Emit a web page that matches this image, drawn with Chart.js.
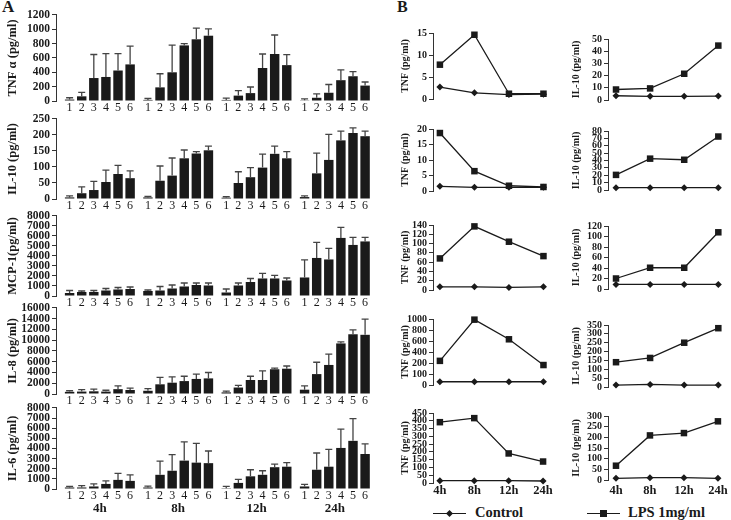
<!DOCTYPE html>
<html><head><meta charset="utf-8">
<script src="https://cdn.jsdelivr.net/npm/chart.js@4/dist/chart.umd.min.js"></script>
<style>
html,body{margin:0;padding:0;background:#fff;}
#wrap{position:relative;width:731px;height:520px;overflow:hidden;background:#fff;font-family:"Liberation Serif","Times New Roman",serif;color:#1a1a1a;}
#wrap canvas{position:absolute;}
.lbl{position:absolute;font-weight:bold;white-space:nowrap;}
.ln{position:absolute;height:1.4px;background:#1a1a1a;}
.mk{position:absolute;background:#1a1a1a;}
</style></head><body><div id="wrap">
<div class="lbl" style="left:2px;top:-3px;font-size:17px">A</div>
<div class="lbl" style="left:397px;top:-2px;font-size:16px">B</div>
<div class="ln" style="left:433px;top:512.5px;width:33px"></div>
<div class="mk" style="left:446.5px;top:510.5px;width:5px;height:5px;transform:rotate(45deg)"></div>
<div class="lbl" style="left:475px;top:504px;font-size:14.5px;line-height:17px">Control</div>
<div class="ln" style="left:587px;top:512.5px;width:33px"></div>
<div class="mk" style="left:600px;top:510px;width:6.5px;height:6.5px"></div>
<div class="lbl" style="left:628px;top:504px;font-size:14.5px;line-height:17px">LPS 1mg/ml</div>
</div>
<script>
// ---------- categories ----------
const TIMES = ['4h', '8h', '12h', '24h'];
const BAR_NUMBERS = ['1', '2', '3', '4', '5', '6'];

// ---------- Panel A: mean per time point (bars 1..6) and upper end of error bar ----------
const TNF_A_MEAN  = [[20, 65, 320, 335, 425, 510], [15, 190, 400, 775, 860, 910], [15, 75, 110, 460, 655, 500], [10, 45, 115, 290, 345, 215]];
const TNF_A_UPPER = [[45, 120, 648, 660, 660, 765], [35, 380, 780, 800, 1015, 1005], [40, 145, 195, 655, 920, 645], [30, 100, 230, 435, 410, 265]];
const TNF_A_TICKS = [0, 200, 400, 600, 800, 1000, 1200];

const IL10_A_MEAN  = [[5, 18, 28, 53, 78, 65], [5, 57, 73, 127, 142, 152], [4, 50, 68, 98, 141, 127], [6, 80, 122, 183, 206, 196]];
const IL10_A_UPPER = [[10, 38, 55, 90, 105, 88], [8, 103, 128, 153, 148, 165], [7, 85, 98, 140, 165, 148], [10, 143, 202, 212, 222, 212]];
const IL10_A_TICKS = [0, 50, 100, 150, 200, 250];

const MCP1_A_MEAN  = [[300, 400, 400, 550, 650, 700], [500, 550, 750, 950, 1100, 1050], [350, 1050, 1400, 1750, 1750, 1550], [1850, 3800, 3650, 5800, 5100, 5450]];
const MCP1_A_UPPER = [[550, 500, 550, 750, 850, 900], [600, 950, 1100, 1300, 1300, 1300], [700, 1300, 1750, 2250, 2050, 1800], [3600, 5350, 4750, 6850, 5850, 5850]];
const MCP1_A_TICKS = [0, 1000, 2000, 3000, 4000, 5000, 6000, 7000, 8000];

const IL8_A_MEAN  = [[400, 450, 500, 450, 900, 750], [600, 1800, 2100, 2400, 2800, 2900], [300, 1200, 2600, 2600, 4600, 4700], [800, 3700, 5400, 9400, 11100, 11000]];
const IL8_A_UPPER = [[600, 800, 900, 700, 1500, 1100], [1000, 3100, 3200, 3300, 3700, 4000], [550, 1600, 3300, 4300, 4800, 5200], [1500, 5900, 7400, 9700, 11900, 13900]];
const IL8_A_TICKS = [0, 2000, 4000, 6000, 8000, 10000, 12000, 14000, 16000];

const IL6_A_MEAN  = [[150, 150, 250, 500, 900, 800], [150, 1400, 1800, 2800, 2600, 2550], [80, 600, 1250, 1400, 2150, 2200], [250, 1900, 2200, 4050, 4750, 3450]];
const IL6_A_UPPER = [[250, 330, 500, 800, 1550, 1400], [280, 2750, 3400, 4650, 4500, 3750], [250, 950, 1900, 1800, 2450, 2600], [450, 3550, 3900, 5900, 6950, 4450]];
const IL6_A_TICKS = [0, 1000, 2000, 3000, 4000, 5000, 6000, 7000, 8000];

// ---------- Panel B: Control vs LPS 1mg/ml ----------
const TNF_B1_CONTROL = [2.7, 1.4, 1.0, 1.1];
const TNF_B1_LPS     = [7.8, 14.6, 1.2, 1.2];
const TNF_B1_TICKS   = [0, 5, 10, 15];
const IL10_B1_CONTROL = [3.5, 3.0, 3.0, 3.2];
const IL10_B1_LPS     = [8.6, 9.5, 21.5, 44.6];
const IL10_B1_TICKS   = [0, 10, 20, 30, 40, 50];

const TNF_B2_CONTROL = [1.5, 1.2, 1.2, 1.2];
const TNF_B2_LPS     = [18.7, 6.4, 1.7, 1.3];
const TNF_B2_TICKS   = [0, 5, 10, 15, 20];
const IL10_B2_CONTROL = [3.1, 3.1, 3.1, 3.1];
const IL10_B2_LPS     = [20.5, 42.5, 41, 72.5];
const IL10_B2_TICKS   = [0, 10, 20, 30, 40, 50, 60, 70, 80];

const TNF_B3_CONTROL = [6.9, 6.9, 5.5, 6.9];
const TNF_B3_LPS     = [68, 137, 104, 73];
const TNF_B3_TICKS   = [0, 20, 40, 60, 80, 100, 120, 140];
const IL10_B3_CONTROL = [8.7, 8.7, 8.7, 8.7];
const IL10_B3_LPS     = [20, 40.5, 40.5, 108];
const IL10_B3_TICKS   = [0, 20, 40, 60, 80, 100, 120];

const TNF_B4_CONTROL = [59, 59, 59, 59];
const TNF_B4_LPS     = [439, 1188, 831, 363];
const TNF_B4_TICKS   = [0, 200, 400, 600, 800, 1000, 1200];
const TNF_B4_TICK_LABELS = ['0', '100', '200', '400', '600', '800', '1000'];
const IL10_B4_CONTROL = [11, 14.6, 11, 11];
const IL10_B4_LPS     = [140, 164, 250, 332];
const IL10_B4_TICKS   = [0, 50, 100, 150, 200, 250, 300, 350];

const TNF_B5_CONTROL = [15, 15, 15, 13];
const TNF_B5_LPS     = [391, 417, 190, 138];
const TNF_B5_TICKS   = [0, 50, 100, 150, 200, 250, 300, 350, 400, 450];
const IL10_B5_CONTROL = [8, 11, 11, 8];
const IL10_B5_LPS     = [67, 209, 220, 275];
const IL10_B5_TICKS   = [0, 50, 100, 150, 200, 250, 300];

// ---------- drawing ----------
const SERIF = "'Liberation Serif','Times New Roman',serif";
const INK = '#1a1a1a';
const wrap = document.getElementById('wrap');

function newCanvas(left, top, w, h) {
  const c = document.createElement('canvas');
  c.width = w; c.height = h;
  c.style.left = left + 'px'; c.style.top = top + 'px';
  c.style.width = w + 'px'; c.style.height = h + 'px';
  wrap.appendChild(c);
  return c;
}

function yScale(tickVals, tickLabels, o) {
  return {
    position: 'left',
    min: tickVals[0], max: tickVals[tickVals.length - 1],
    afterBuildTicks: s => { s.ticks = tickVals.map(v => ({ value: v })); },
    afterFit: s => { s.width = o.width; },
    grid: { display: true, drawOnChartArea: false, drawTicks: true, tickLength: 4, color: '#333', lineWidth: 1 },
    border: { display: true, color: '#333', width: 1 },
    ticks: {
      autoSkip: false, padding: 2, color: INK,
      font: { family: SERIF, size: o.tickSize, weight: 'bold' },
      callback: (v, i) => tickLabels ? tickLabels[i] : String(v)
    },
    title: {
      display: true, text: o.title, color: INK,
      font: { family: SERIF, size: o.titleSize, weight: 'bold', lineHeight: 1.2 },
      padding: { top: o.titlePad, bottom: 0 }
    }
  };
}

const errorBars = {
  id: 'errorBars',
  afterDatasetsDraw(chart) {
    const ctx = chart.ctx, y = chart.scales.y;
    chart.data.datasets.forEach((ds, di) => {
      if (!ds.upper) return;
      chart.getDatasetMeta(di).data.forEach((bar, i) => {
        const yt = y.getPixelForValue(ds.upper[i]);
        ctx.save();
        ctx.strokeStyle = '#444';
        ctx.lineWidth = 1.3;
        ctx.beginPath();
        ctx.moveTo(bar.x, bar.y); ctx.lineTo(bar.x, yt);
        ctx.moveTo(bar.x - 3.5, yt); ctx.lineTo(bar.x + 3.5, yt);
        ctx.stroke();
        ctx.restore();
      });
    });
  }
};

const A_ROWS = [
  { title: 'TNF α (pg/ml)', mean: TNF_A_MEAN, upper: TNF_A_UPPER, ticks: TNF_A_TICKS, top: 14, bottom: 101 },
  { title: 'IL-10 (pg/ml)', mean: IL10_A_MEAN, upper: IL10_A_UPPER, ticks: IL10_A_TICKS, top: 118, bottom: 199 },
  { title: 'MCP-1(pg/ml)', mean: MCP1_A_MEAN, upper: MCP1_A_UPPER, ticks: MCP1_A_TICKS, top: 215, bottom: 296 },
  { title: 'IL-8 (pg/ml)', mean: IL8_A_MEAN, upper: IL8_A_UPPER, ticks: IL8_A_TICKS, top: 307, bottom: 394 },
  { title: 'IL-6 (pg/ml)', mean: IL6_A_MEAN, upper: IL6_A_UPPER, ticks: IL6_A_TICKS, top: 407, bottom: 489 }
];
const CAT_PCT = 0.927, BAR_PCT = 0.78;
const AX_MIN = -0.56, AX_MAX = 3.5;

A_ROWS.forEach((row, idx) => {
  const last = idx === A_ROWS.length - 1;
  const PT = 8, NUM_H = 11, TIME_H = 20;
  const H = PT + (row.bottom - row.top) + NUM_H + (last ? TIME_H : 2);
  const canvas = newCanvas(0, row.top - PT, 380, H);
  const datasets = BAR_NUMBERS.map((n, j) => ({
    label: n,
    data: TIMES.map((t, g) => ({ x: g, y: row.mean[g][j] })),
    upper: TIMES.map((t, g) => row.upper[g][j]),
    backgroundColor: INK, borderWidth: 0,
    categoryPercentage: CAT_PCT, barPercentage: BAR_PCT
  }));
  const xTime = {
    type: 'linear', position: 'bottom', weight: 2, min: AX_MIN, max: AX_MAX, offset: false, display: last,
    afterBuildTicks: s => { s.ticks = TIMES.map((t, i) => ({ value: i })); },
    grid: { display: false, drawTicks: false, offset: false }, border: { display: false },
    ticks: { autoSkip: false, maxRotation: 0, padding: 1, color: INK,
      font: { family: SERIF, size: 13, weight: 'bold' }, callback: (v, i) => TIMES[i] }
  };
  if (last) xTime.afterFit = s => { s.height = TIME_H; };
  new Chart(canvas, {
    type: 'bar',
    data: { datasets },
    options: {
      responsive: false, animation: false, events: [],
      layout: { padding: { top: PT, bottom: last ? 0 : 2, left: 0, right: 6 } },
      plugins: { legend: { display: false }, tooltip: { enabled: false } },
      scales: {
        x: xTime,
        xn: {
          type: 'linear', position: 'bottom', weight: 1, min: AX_MIN, max: AX_MAX, offset: false,
          afterBuildTicks: s => {
            const t = [];
            TIMES.forEach((tm, g) => BAR_NUMBERS.forEach((n, j) => t.push({ value: g - CAT_PCT / 2 + (j + 0.5) * CAT_PCT / 6 })));
            s.ticks = t;
          },
          afterFit: s => { s.height = NUM_H; },
          grid: { display: false, drawTicks: false, offset: false }, border: { display: false },
          ticks: { autoSkip: false, maxRotation: 0, padding: 0, color: INK,
            font: { family: SERIF, size: 12 }, callback: (v, i) => BAR_NUMBERS[i % 6] }
        },
        y: yScale(row.ticks, null, { width: 56, tickSize: 11.5, title: row.title, titleSize: 12.5, titlePad: 5.5 })
      }
    },
    plugins: [errorBars]
  });
});

const B_CHARTS = [
  { col: 0, title: 'TNF (pg/ml)', control: TNF_B1_CONTROL, lps: TNF_B1_LPS, ticks: TNF_B1_TICKS, top: 33, bottom: 101 },
  { col: 1, title: 'IL-10 (pg/ml)', control: IL10_B1_CONTROL, lps: IL10_B1_LPS, ticks: IL10_B1_TICKS, top: 39, bottom: 102 },
  { col: 0, title: 'TNF (pg/ml)', control: TNF_B2_CONTROL, lps: TNF_B2_LPS, ticks: TNF_B2_TICKS, top: 129, bottom: 193 },
  { col: 1, title: 'IL-10 (pg/ml)', control: IL10_B2_CONTROL, lps: IL10_B2_LPS, ticks: IL10_B2_TICKS, top: 131, bottom: 192 },
  { col: 0, title: 'TNF (pg/ml)', control: TNF_B3_CONTROL, lps: TNF_B3_LPS, ticks: TNF_B3_TICKS, top: 225, bottom: 292 },
  { col: 1, title: 'IL-10 (pg/ml)', control: IL10_B3_CONTROL, lps: IL10_B3_LPS, ticks: IL10_B3_TICKS, top: 226, bottom: 291 },
  { col: 0, title: 'TNF (pg/ml)', control: TNF_B4_CONTROL, lps: TNF_B4_LPS, ticks: TNF_B4_TICKS, labels: TNF_B4_TICK_LABELS, top: 319, bottom: 387 },
  { col: 1, title: 'IL-10 (pg/ml)', control: IL10_B4_CONTROL, lps: IL10_B4_LPS, ticks: IL10_B4_TICKS, top: 325, bottom: 389 },
  { col: 0, title: 'TNF (pg/ml)', control: TNF_B5_CONTROL, lps: TNF_B5_LPS, ticks: TNF_B5_TICKS, top: 413, bottom: 483, times: true, tpad: 0 },
  { col: 1, title: 'IL-10 (pg/ml)', control: IL10_B5_CONTROL, lps: IL10_B5_LPS, ticks: IL10_B5_TICKS, top: 416, bottom: 480, times: true, tpad: 3 }
];
const B_COLS = [
  { left: 390, width: 163, yW: 43, padR: 4, min: -0.2, max: 3.143, titlePad: 9 },
  { left: 560, width: 171, yW: 48, padR: 6, min: -0.235, max: 3.196, titlePad: 10.7 }
];

B_CHARTS.forEach(c => {
  const col = B_COLS[c.col];
  const PT = 8, PB = 6, TIME_H = 18;
  const H = PT + (c.bottom - c.top) + (c.times ? TIME_H + 2 : PB);
  const canvas = newCanvas(col.left, c.top - PT, col.width, H);
  const xs = {
    type: 'linear', position: 'bottom', min: col.min, max: col.max, offset: false, display: !!c.times,
    afterBuildTicks: s => { s.ticks = TIMES.map((t, i) => ({ value: i })); },
    grid: { display: false, drawTicks: false }, border: { display: false },
    ticks: { autoSkip: false, maxRotation: 0, padding: c.tpad || 0, color: INK,
      font: { family: SERIF, size: 12.5, weight: 'bold' }, callback: (v, i) => TIMES[i] }
  };
  if (c.times) xs.afterFit = s => { s.height = TIME_H; };
  new Chart(canvas, {
    type: 'line',
    data: {
      datasets: [
        { label: 'Control', data: TIMES.map((t, i) => ({ x: i, y: c.control[i] })),
          borderColor: INK, backgroundColor: INK, borderWidth: 1.3, tension: 0, clip: false,
          pointStyle: 'rectRot', pointRadius: 3.5, pointBorderWidth: 0, pointBackgroundColor: INK },
        { label: 'LPS 1mg/ml', data: TIMES.map((t, i) => ({ x: i, y: c.lps[i] })),
          borderColor: INK, backgroundColor: INK, borderWidth: 1.3, tension: 0, clip: false,
          pointStyle: 'rect', pointRadius: 4.6, pointBorderWidth: 0, pointBackgroundColor: INK }
      ]
    },
    options: {
      responsive: false, animation: false, events: [],
      layout: { padding: { top: PT, bottom: c.times ? 2 : PB, left: 0, right: col.padR } },
      plugins: { legend: { display: false }, tooltip: { enabled: false } },
      scales: {
        x: xs,
        y: yScale(c.ticks, c.labels || null, { width: col.yW, tickSize: 10, title: c.title, titleSize: 10, titlePad: col.titlePad })
      }
    }
  });
});
</script>
</body></html>
